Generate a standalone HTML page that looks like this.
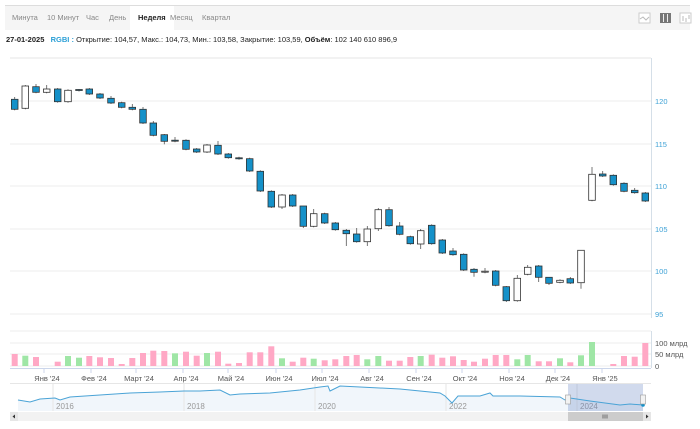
<!DOCTYPE html>
<html><head><meta charset="utf-8"><style>
html,body{margin:0;padding:0;background:#fff;width:700px;height:429px;overflow:hidden;font-family:"Liberation Sans",sans-serif}
.bar{position:absolute;left:5px;top:5px;width:685px;height:24px;background:#f5f5f5;border-top:1px solid #ddd}
.tab{position:absolute;top:0;height:24px;line-height:24px;font-size:7.5px;color:#888}
.tab.a{background:#fff;color:#222;font-weight:bold;padding:0 8px}
.info{position:absolute;left:6px;top:35px;font-size:7.5px;color:#222}
</style></head><body>
<div class="bar">
<span class="tab" style="left:7px">Минута</span>
<span class="tab" style="left:42px">10 Минут</span>
<span class="tab" style="left:81px">Час</span>
<span class="tab" style="left:104px">День</span>
<span class="tab a" style="left:125px">Неделя</span>
<span class="tab" style="left:165px">Месяц</span>
<span class="tab" style="left:197px">Квартал</span>
<svg style="position:absolute;left:633px;top:6px" width="56" height="13">
<rect x="1" y="1" width="11" height="10" fill="#fff" stroke="#ccc"/><path d="M2 7 L5 5 L8 8 L11 5" fill="none" stroke="#bbb"/>
<rect x="22" y="1" width="11" height="10" fill="#777"/><path d="M25.5 2V10M29.5 2V10" stroke="#eee"/>
<rect x="42" y="1" width="11" height="10" fill="#fff" stroke="#ccc"/><path d="M45 4V9M48 6V10M51 3V7" stroke="#bbb"/>
</svg>
</div>
<div class="info"><b>27-01-2025</b>&nbsp;&nbsp; <b style="color:#2a9fd6">RGBI :</b> Открытие: 104,57, Макс.: 104,73, Мин.: 103,58, Закрытие: 103,59, <b>Объём</b>: 102 140 610 896,9</div>
<svg id="s" style="position:absolute;left:0;top:0" width="700" height="429"></svg>
<script>
var s='';
s+='<line x1="10" y1="58" x2="651" y2="58" stroke="#e6e6e6"/>';
[[101,120],[144,115],[186,110],[229,105],[271,100],[314,95]].forEach(function(g){
s+='<line x1="10" y1="'+g[0]+'" x2="651" y2="'+g[0]+'" stroke="#ececec"/>';
s+='<text x="655" y="'+(g[0]+3)+'" font-size="7.5" fill="#3fa2d6">'+g[1]+'</text>';});
s+='<line x1="651.5" y1="58" x2="651.5" y2="318" stroke="#d5dfe8"/>';
var c=[[14.7,99.3,109.3,1,97],[25.3,86,108.3,0,85],[36,86.7,92.3,1,84],[46.7,89,92.3,0,85],[57.7,89,101.7,1],[68,90.3,101.7,0],[79,89.5,90.5,1,89],[89.3,89,94,1,88],[100,94,98,1],[111,98.3,103,1,96],[121.7,102.7,107.3,1],[132.3,107.3,109.3,1,104],[143,109.3,123,1,107],[153.3,123,135.3,1,121],[164.3,134.7,141.3,1,134,144.3],[175,140.2,141.2,1,137],[186,140.3,149.3,1],[196.7,149,152,1],[207,145,152,0],[218,145.3,154,1,141],[228.3,154,157.7,1],[239,157.8,158.8,1],[249.7,158.7,171,1],[260.3,171.3,191,1],[271.3,191.3,207,1],[282,195,207,0,194,209],[292.7,195,206,1],[303.3,206,226.3,1,206,228],[313.7,213.7,226.3,0,209],[324.7,213.7,223,1],[335.3,223,229.7,1],[346.3,230.3,233.7,1,229,246],
[356.7,234,241.7,1,228],[367.3,229,241.7,0,226,246],[378.3,209.7,228.7,0,208,231],[389,209.7,225.7,1,207],[399.7,226,234.3,1,222],[410.3,236.7,243.7,1],[420.7,230.7,244,0,229,249],[431.7,225.3,243.7,1],[442.3,240,253,1],[453,251,254.7,1,248],[463.7,254.3,270,1],[474,269.3,272.3,1,268,276.7],[485,271.2,272.2,0,268],[495.7,271,285.3,1],[506.3,286.7,300.7,1,286,302],[517.3,278.3,300.7,0,275],[527.7,267.3,274.3,0,265],[538.7,266,277.3,1,265,282],[549,277.3,283.3,1,277,285],[560,280.3,282.3,0],[570.3,278.7,283,1,277],[581,250.3,282.7,0,250,288.7],[592,174.3,200.3,0,167],[602.7,174,176,1,171],[613.3,175.3,184.7,1],[624,183.3,191.3,1],[634.7,190.3,192.7,1,188],[645.3,193,201,1,192]];
c.forEach(function(d){var x=d[0],t=d[1],b=d[2],wt=d[4]||t-1,wb=d[5]||b+1;
s+='<line x1="'+x+'" y1="'+wt+'" x2="'+x+'" y2="'+wb+'" stroke="#555" stroke-width="0.8"/>';
s+='<rect x="'+(x-3.3)+'" y="'+t+'" width="6.6" height="'+Math.max(b-t,1)+'" fill="'+(d[3]?'#1591c9':'#fff')+'" stroke="#333" stroke-width="0.8"/>';});
// volume
[[343,'100 млрд'],[354,'50 млрд'],[366,'0']].forEach(function(g){
s+='<line x1="10" y1="'+g[0]+'" x2="651" y2="'+g[0]+'" stroke="#ececec"/>';
s+='<text x="655" y="'+(g[0]+3)+'" font-size="7.5" fill="#555">'+g[1]+'</text>';});
s+='<line x1="10" y1="331" x2="651" y2="331" stroke="#ececec"/><line x1="651.5" y1="331" x2="651.5" y2="368" stroke="#d5dfe8"/>';
var v=[[354,'p'],[355.7,'g'],[357,'p'],[366,'p'],[361.7,'p'],[356,'g'],[357.7,'g'],[356,'p'],[357.3,'p'],[358,'p'],[364,'p'],[358,'p'],[353,'p'],[350.7,'p'],[351,'p'],[353.3,'g'],[351.7,'p'],[355.7,'p'],[353,'g'],[351.7,'p'],[363.7,'p'],[363,'p'],[352.3,'p'],[352.3,'p'],[346.3,'p'],[358.3,'g'],[361.7,'p'],[357.7,'p'],[358.7,'g'],[360.3,'p'],[359.3,'p'],[356,'p'],
[355,'p'],[359.3,'g'],[356,'g'],[360.7,'p'],[360.7,'p'],[357,'p'],[356,'g'],[354.7,'p'],[357.7,'p'],[356.3,'p'],[360,'p'],[361.7,'p'],[358.7,'p'],[355,'p'],[355,'p'],[359.3,'g'],[355,'g'],[361.3,'p'],[361.3,'p'],[358.3,'g'],[362.3,'p'],[355.3,'g'],[342,'g'],[366,'p'],[364,'p'],[356,'p'],[356.7,'p'],[343,'p']];
v.forEach(function(d,i){var x=c[i][0];if(d[0]<366)s+='<rect x="'+(x-3)+'" y="'+d[0]+'" width="6" height="'+(366-d[0])+'" fill="'+(d[1]=='g'?'#9fe6a6':'#ffa8c5')+'"/>';});
s+='<line x1="10" y1="368.5" x2="651" y2="368.5" stroke="#ccd6eb"/>';
[['Янв \'24',47],['Фев \'24',94],['Март \'24',139],['Апр \'24',186],['Май \'24',231],['Июн \'24',279],['Июл \'24',325],['Авг \'24',372],['Сен \'24',419],['Окт \'24',465],['Ноя \'24',512],['Дек \'24',558],['Янв \'25',605]].forEach(function(l){
s+='<line x1="'+(l[1]-3)+'" y1="369" x2="'+(l[1]-3)+'" y2="373" stroke="#ccd6eb"/>';
s+='<text x="'+l[1]+'" y="381" font-size="7.5" fill="#555" text-anchor="middle">'+l[0]+'</text>';});
// navigator
s+='<line x1="10" y1="383.5" x2="651" y2="383.5" stroke="#e6e6e6"/>';
var p=[[18,400],[30,402],[40,399],[55,398],[60,400],[70,397],[100,395],[130,393],[160,392],[184,391],[200,391],[220,390],[230,395],[240,394],[270,393],[300,390],[320,387],[328,386],[330,391],[340,386],[360,387],[400,389],[440,393],[445,396],[452,403],[458,396],[480,396],[490,393],[493,396],[520,396],[560,397],[565,400],[570,398],[590,401],[620,405],[630,404],[643,405]];
var ps=p.map(function(q){return q[0]+','+q[1]}).join(' L');
s+='<path d="M'+ps+' L643,411 L18,411Z" fill="#f1f6fb"/>';
[[53,'2016'],[184,'2018'],[315,'2020'],[446,'2022'],[577,'2024']].forEach(function(y){
s+='<line x1="'+y[0]+'" y1="384" x2="'+y[0]+'" y2="411" stroke="#e6e6e6"/><text x="'+(y[0]+3)+'" y="409" font-size="8" fill="#999">'+y[1]+'</text>';});
s+='<rect x="568" y="384" width="75" height="27" fill="rgba(102,133,194,0.3)"/>';
s+='<path d="M'+ps+'" fill="none" stroke="#4aa3d6" stroke-width="1"/>';
s+='<circle cx="643" cy="405" r="1.8" fill="#1591c9"/>';
s+='<rect x="565.5" y="395" width="5" height="9" fill="#f2f2f2" stroke="#999" stroke-width="0.6"/><rect x="640.5" y="395" width="5" height="9" fill="#f2f2f2" stroke="#999" stroke-width="0.6"/>';
s+='<rect x="10" y="412" width="641" height="9" fill="#f2f2f2"/><rect x="10" y="412" width="8" height="9" fill="#e6e6e6"/><path d="M15 414.5 L12.5 416.5 L15 418.5Z" fill="#333"/>';
s+='<rect x="568" y="412" width="75" height="9" fill="#ccc"/><path d="M603 414.5V418.5M605 414.5V418.5M607 414.5V418.5" stroke="#333" stroke-width="0.6"/>';
s+='<rect x="643" y="412" width="8" height="9" fill="#e6e6e6"/><path d="M646 414.5 L648.5 416.5 L646 418.5Z" fill="#333"/>';
document.getElementById('s').innerHTML=s;
</script>
</body></html>
